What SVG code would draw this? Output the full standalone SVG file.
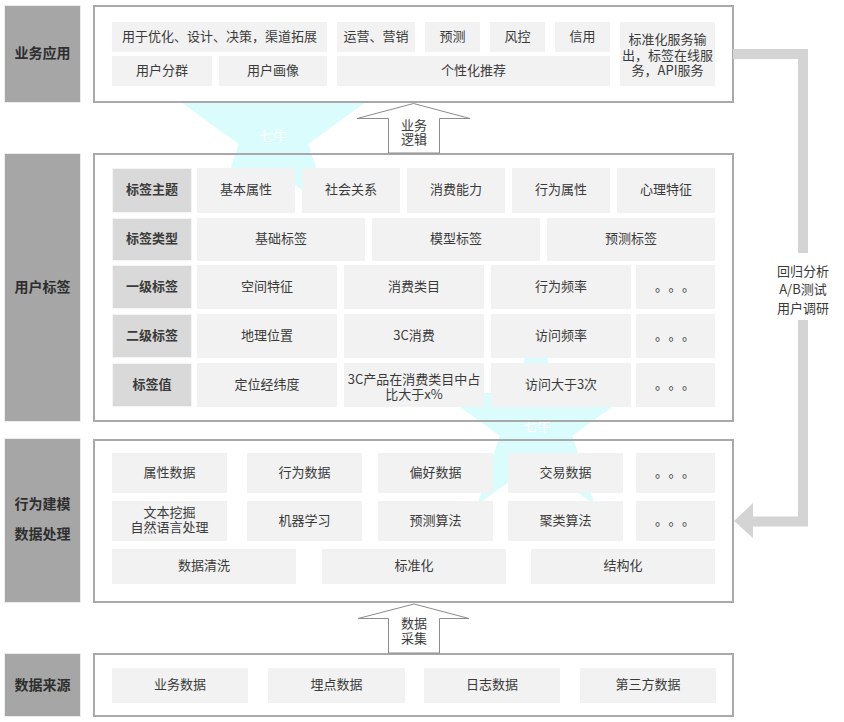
<svg xmlns="http://www.w3.org/2000/svg" width="844" height="722" viewBox="0 0 844 722">
<style>
text{font-family:"Noto Sans CJK SC","Liberation Sans",sans-serif;font-size:13px;fill:#3a3a3a;text-anchor:middle;dominant-baseline:middle}
.lbl rect{fill:#a6a6a6;stroke:#ececec;stroke-width:1}
.lbl text{font-size:14px;font-weight:bold;fill:#2e2e2e}
.frame{fill:none;stroke:#a9a9a9;stroke-width:2}
.c{fill:#f2f2f2}
.h{fill:#d9d9d9;stroke:#f4f4f4;stroke-width:1}
.hb{font-weight:bold}
.wm{fill:#dbfcfd}
.wt{fill:#ffffff;font-size:14px}
.up{fill:#ffffff;stroke:#8c8c8c;stroke-width:1}
.fb{fill:none;stroke:#d4d4d4;stroke-width:10}
</style>
<rect width="844" height="722" fill="#ffffff"/>
<g id="watermark">
<polygon class="wm" points="273.5,36.7 295.1,103 364.8,103 308.4,144 329.9,210.4 273.5,169.4 217.1,210.4 238.6,144 182.2,103 251.9,103"/>
<text class="wt" x="273" y="137">七牛</text>
<polygon class="wm" points="536,324 558.5,393.1 631.1,393.1 572.3,435.7 594.8,504.9 536,462.2 477.2,504.9 499.7,435.7 440.9,393.1 513.5,393.1"/>
<text class="wt" x="537" y="427">七牛</text>
</g>

<g id="layer-app">
<g class="lbl"><rect x="4.5" y="5.5" width="76" height="97"/><text x="42.5" y="54">业务应用</text></g>
<rect x="94" y="6" width="639" height="96" fill="#ffffff" stroke="#a9a9a9" stroke-width="2"/>
<rect class="c" x="112" y="22" width="215" height="30"/><text x="219.5" y="37.5">用于优化、设计、决策，渠道拓展</text>
<rect class="c" x="337" y="22" width="78" height="30"/><text x="376" y="37.5">运营、营销</text>
<rect class="c" x="425" y="22" width="55" height="30"/><text x="452.5" y="37.5">预测</text>
<rect class="c" x="490" y="22" width="55" height="30"/><text x="517.5" y="37.5">风控</text>
<rect class="c" x="555" y="22" width="55" height="30"/><text x="582.5" y="37.5">信用</text>
<rect class="c" x="620" y="22" width="95" height="64"/>
<text><tspan x="667.5" y="40">标准化服务输</tspan><tspan x="667.5" y="55.5">出，标签在线服</tspan><tspan x="667.5" y="71">务，API服务</tspan></text>
<rect class="c" x="112" y="56" width="100" height="30"/><text x="162" y="71.5">用户分群</text>
<rect class="c" x="219" y="56" width="108" height="30"/><text x="273" y="71.5">用户画像</text>
<rect class="c" x="337" y="56" width="273" height="30"/><text x="473.5" y="71.5">个性化推荐</text>
</g>

<g id="layer-tags">
<g class="lbl"><rect x="4.5" y="153.5" width="76" height="268"/><text x="42.5" y="288">用户标签</text></g>
<rect class="frame" x="94" y="154" width="639" height="267"/>
<rect class="h" x="112.5" y="168.5" width="79" height="44"/><text class="hb" x="152" y="190.5">标签主题</text>
<rect class="c" x="197" y="168" width="98" height="45"/><text x="246" y="190.5">基本属性</text>
<rect class="c" x="302" y="168" width="98" height="45"/><text x="351" y="190.5">社会关系</text>
<rect class="c" x="407" y="168" width="98" height="45"/><text x="456" y="190.5">消费能力</text>
<rect class="c" x="512" y="168" width="98" height="45"/><text x="561" y="190.5">行为属性</text>
<rect class="c" x="617" y="168" width="98" height="45"/><text x="666" y="190.5">心理特征</text>

<rect class="h" x="112.5" y="218.5" width="79" height="42"/><text class="hb" x="152" y="239.5">标签类型</text>
<rect class="c" x="197" y="218" width="168" height="43"/><text x="281" y="239.5">基础标签</text>
<rect class="c" x="372" y="218" width="168" height="43"/><text x="456" y="239.5">模型标签</text>
<rect class="c" x="547" y="218" width="168" height="43"/><text x="631" y="239.5">预测标签</text>

<rect class="h" x="112.5" y="265.5" width="79" height="43"/><text class="hb" x="152" y="287">一级标签</text>
<rect class="c" x="197" y="265" width="140" height="44"/><text x="267" y="287">空间特征</text>
<rect class="c" x="344" y="265" width="140" height="44"/><text x="414" y="287">消费类目</text>
<rect class="c" x="491" y="265" width="140" height="44"/><text x="561" y="287">行为频率</text>
<rect class="c" x="636" y="265" width="79" height="44"/>
<text x="661.5" y="287">。</text><text x="675" y="287">。</text><text x="688.5" y="287">。</text>

<rect class="h" x="112.5" y="314.5" width="79" height="43"/><text class="hb" x="152" y="336">二级标签</text>
<rect class="c" x="197" y="314" width="140" height="44"/><text x="267" y="336">地理位置</text>
<rect class="c" x="344" y="314" width="140" height="44"/><text x="414" y="336">3C消费</text>
<rect class="c" x="491" y="314" width="140" height="44"/><text x="561" y="336">访问频率</text>
<rect class="c" x="636" y="314" width="79" height="44"/>
<text x="661.5" y="336">。</text><text x="675" y="336">。</text><text x="688.5" y="336">。</text>

<rect class="h" x="112.5" y="363.5" width="79" height="43"/><text class="hb" x="152" y="385">标签值</text>
<rect class="c" x="197" y="363" width="140" height="44"/><text x="267" y="385">定位经纬度</text>
<rect class="c" x="344" y="363" width="140" height="44"/>
<text><tspan x="414" y="379.5">3C产品在消费类目中占</tspan><tspan x="414" y="394.5">比大于x%</tspan></text>
<rect class="c" x="491" y="363" width="140" height="44"/><text x="561" y="385">访问大于3次</text>
<rect class="c" x="636" y="363" width="79" height="44"/>
<text x="661.5" y="385">。</text><text x="675" y="385">。</text><text x="688.5" y="385">。</text>
</g>

<g id="layer-model">
<g class="lbl"><rect x="4.5" y="438.5" width="76" height="164"/><text x="42.5" y="505.5">行为建模</text><text x="42.5" y="535">数据处理</text></g>
<rect class="frame" x="94" y="440" width="639" height="162"/>
<rect class="c" x="112" y="453" width="115" height="40"/><text x="169.5" y="473">属性数据</text>
<rect class="c" x="247" y="453" width="115" height="40"/><text x="304.5" y="473">行为数据</text>
<rect class="c" x="378" y="453" width="115" height="40"/><text x="435.5" y="473">偏好数据</text>
<rect class="c" x="508" y="453" width="115" height="40"/><text x="565.5" y="473">交易数据</text>
<rect class="c" x="636" y="453" width="79" height="40"/>
<text x="661.5" y="473">。</text><text x="675" y="473">。</text><text x="688.5" y="473">。</text>
<rect class="c" x="112" y="501" width="115" height="40"/>
<text><tspan x="169.5" y="513">文本挖掘</tspan><tspan x="169.5" y="528">自然语言处理</tspan></text>
<rect class="c" x="247" y="501" width="115" height="40"/><text x="304.5" y="521">机器学习</text>
<rect class="c" x="378" y="501" width="115" height="40"/><text x="435.5" y="521">预测算法</text>
<rect class="c" x="508" y="501" width="115" height="40"/><text x="565.5" y="521">聚类算法</text>
<rect class="c" x="636" y="501" width="79" height="40"/>
<text x="661.5" y="521">。</text><text x="675" y="521">。</text><text x="688.5" y="521">。</text>
<rect class="c" x="112" y="549" width="184" height="35"/><text x="204" y="566.5">数据清洗</text>
<rect class="c" x="322" y="549" width="184" height="35"/><text x="414" y="566.5">标准化</text>
<rect class="c" x="531" y="549" width="184" height="35"/><text x="623" y="566.5">结构化</text>
</g>

<g id="layer-source">
<g class="lbl"><rect x="4.5" y="653.5" width="76" height="63"/><text x="42.5" y="686.5">数据来源</text></g>
<rect class="frame" x="94" y="654" width="639" height="62"/>
<rect class="c" x="112" y="668" width="136" height="35"/><text x="180" y="685.5">业务数据</text>
<rect class="c" x="268" y="668" width="137" height="35"/><text x="336.5" y="685.5">埋点数据</text>
<rect class="c" x="424" y="668" width="136" height="35"/><text x="492" y="685.5">日志数据</text>
<rect class="c" x="580" y="668" width="136" height="35"/><text x="648" y="685.5">第三方数据</text>
</g>

<g id="connectors">
<g id="arrow-logic">
<polygon class="up" points="388.5,153 388.5,118.5 357,118.5 413.5,103.5 470,118.5 439.5,118.5 439.5,153"/>
<text><tspan x="414" y="125.5">业务</tspan><tspan x="414" y="140">逻辑</tspan></text>
</g>
<g id="arrow-collect">
<polygon class="up" points="388.5,653 388.5,618.5 358,618.5 414,604 469,618.5 439.5,618.5 439.5,653"/>
<text><tspan x="414" y="624">数据</tspan><tspan x="414" y="639">采集</tspan></text>
</g>
<g id="feedback">
<path class="fb" d="M733,54 H803 V253"/>
<path class="fb" d="M803,320 V521.5 H752"/>
<polygon fill="#d4d4d4" points="734,521 753,503 753,538"/>
<text><tspan x="803" y="271.5">回归分析</tspan><tspan x="803" y="290">A/B测试</tspan><tspan x="803" y="308.5">用户调研</tspan></text>
</g>
</g>
</svg>
